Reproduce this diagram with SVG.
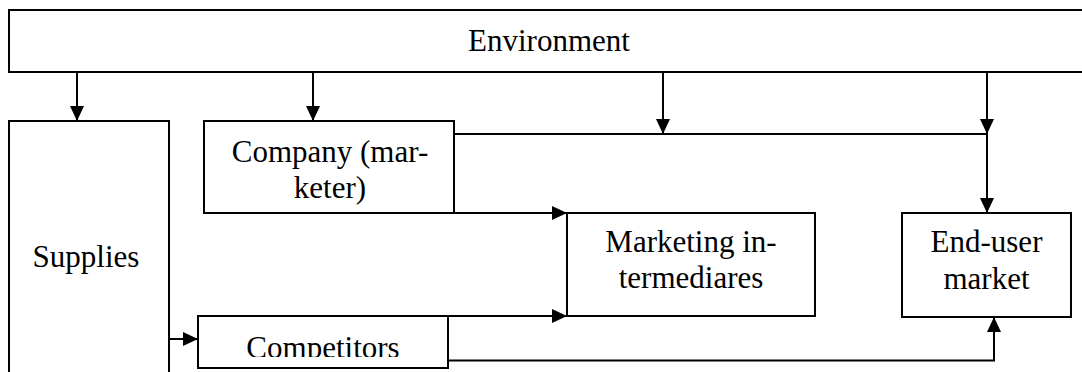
<svg xmlns="http://www.w3.org/2000/svg" width="1082" height="372" viewBox="0 0 1082 372">
  <style>
    .box { fill: #ffffff; stroke: #000000; stroke-width: 2; }
    .lbl { font-family: "Liberation Serif", "Times New Roman", serif; font-size: 31px; fill: #000000; text-anchor: middle; }
    .wire { fill: none; stroke: #000000; stroke-width: 2; }
    .arr { marker-end: url(#head); }
  </style>
  <defs>
    <marker id="head" markerUnits="userSpaceOnUse" markerWidth="15" markerHeight="14" refX="15" refY="7" orient="auto" overflow="visible">
      <path d="M0,0 L15,7 L0,14 Z" fill="#000000"/>
    </marker>
    <clipPath id="compClip">
      <rect x="198" y="316" width="250" height="41"/>
    </clipPath>
  </defs>

  <!-- nodes -->
  <g id="environment">
    <rect class="box" x="9" y="10" width="1085" height="62"/>
    <text class="lbl" x="549" y="51">Environment</text>
  </g>
  <g id="supplies">
    <rect class="box" x="9" y="121" width="160" height="262"/>
    <text class="lbl" x="86" y="267">Supplies</text>
  </g>
  <g id="company">
    <rect class="box" x="204" y="121" width="250" height="92"/>
    <text class="lbl" x="330" y="162">Company (mar-</text>
    <text class="lbl" x="330" y="198">keter)</text>
  </g>
  <g id="intermediaries">
    <rect class="box" x="567" y="213" width="248" height="103"/>
    <text class="lbl" x="691" y="252">Marketing in-</text>
    <text class="lbl" x="691" y="288">termediares</text>
  </g>
  <g id="end-user">
    <rect class="box" x="902" y="213" width="169" height="104"/>
    <text class="lbl" x="986.5" y="252">End-user</text>
    <text class="lbl" x="986.5" y="289">market</text>
  </g>
  <g id="competitors">
    <rect class="box" x="198" y="316" width="250" height="52"/>
    <text class="lbl" x="323" y="358" clip-path="url(#compClip)">Competitors</text>
  </g>

  <!-- connectors -->
  <g id="connectors">
    <path class="wire arr" d="M77,72 V121"/>
    <path class="wire arr" d="M313,72 V121"/>
    <path class="wire arr" d="M663,72 V134"/>
    <path class="wire arr" d="M987,72 V134"/>
    <path class="wire arr" d="M987,134 V213"/>
    <path class="wire" d="M454,134 H987"/>
    <path class="wire arr" d="M454,213 H567"/>
    <path class="wire arr" d="M169,339 H198"/>
    <path class="wire arr" d="M448,316 H567"/>
    <path class="wire arr" d="M448,360.5 H994 V317"/>
  </g>
</svg>
